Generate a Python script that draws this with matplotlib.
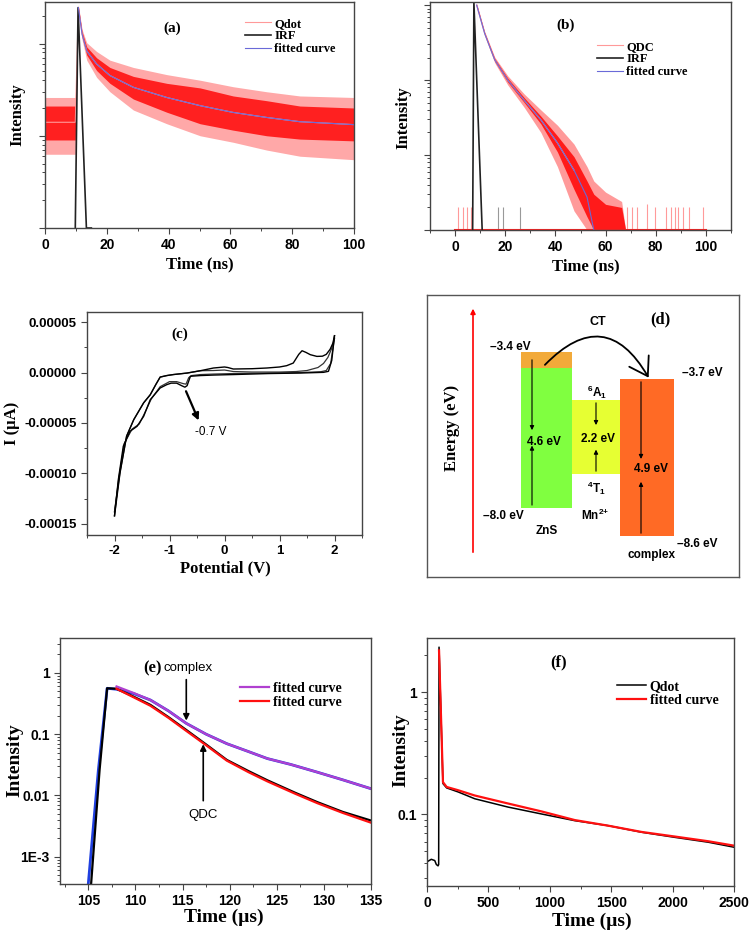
import matplotlib
matplotlib.use("Agg")
import matplotlib.pyplot as plt
from matplotlib.ticker import (LogLocator, NullFormatter, MultipleLocator,
                               FuncFormatter, FixedLocator, FixedFormatter)
from matplotlib.patches import Rectangle, FancyArrowPatch, ArrowStyle

SANS = 'Liberation Sans'
SERIF = 'Liberation Serif'
plt.rcParams['font.family'] = [SANS, 'DejaVu Sans']
plt.rcParams['font.weight'] = 'bold'
plt.rcParams['mathtext.fontset'] = 'custom'
plt.rcParams['mathtext.rm'] = 'Liberation Sans:bold'
plt.rcParams['mathtext.it'] = 'Liberation Sans:bold'
plt.rcParams['mathtext.bf'] = 'Liberation Sans:bold'

# ---------------- data (a) ----------------
a_time = [0, 5, 9.8, 10.8, 12, 13.5, 16.7, 21, 28.6, 39.4, 50.2, 60.9, 71.7, 82.5, 100]
a_qdot = [14, 14, 14, 245, 126, 83, 60, 45, 33.5, 26, 21.2, 17.9, 15.8, 14.2, 13.2]
a_qdot_hi = [21, 21, 21, 255, 134, 92, 70, 55, 44, 37, 33, 27, 24, 21, 20]
a_qdot_lo = [9, 9, 9, 235, 118, 75, 51, 37, 25, 18, 13.5, 11.5, 10, 9.2, 8.8]
a_spike_hi = [26, 26, 26, 262, 142, 102, 82, 66, 55, 46, 40, 34, 30, 27, 26]
a_spike_lo = [6.3, 6.3, 6.3, 228, 110, 66, 43, 30, 19, 13.5, 10, 8.5, 7, 6, 5.5]
a_fit_time = [10.8, 12, 13.5, 16.7, 21, 28.6, 39.4, 50.2, 60.9, 71.7, 82.5, 100]
a_fit = [245, 126, 83, 60, 45, 33.5, 26, 21.2, 17.9, 15.8, 14.2, 13.2]
a_irf_time = [9.8, 10.7, 13.4, 15.0]
a_irf = [1, 245, 1, 1]
a_legend = ['Qdot', 'IRF', 'fitted curve']

# ---------------- data (b) ----------------
b_time = [7.9, 8.6, 11.8, 15.8, 21, 27.6, 34.2, 40.8, 47.4, 52.6, 55.3, 60, 66.4, 68]
b_qdc_hi = [1, 1030, 430, 194, 106, 58, 33, 18, 9.5, 4.5, 3, 2.2, 2, 1]
b_qdc_lo = [1, 970, 405, 178, 94, 50, 26, 11, 3.5, 1.5, 1, 1, 1, 1]
b_spike_hi = [1, 1060, 445, 203, 114, 65, 40, 25, 14, 7, 4.5, 3.2, 2.4, 1]
b_spike_lo = [1, 940, 390, 170, 86, 43, 20, 7, 1.8, 1, 1, 1, 1, 1]
b_fit_time = [8.6, 11.8, 15.8, 21, 27.6, 34.2, 40.8, 47.4, 52.6, 55.3, 56.5]
b_fit = [1000, 417, 186, 100, 53.7, 29.5, 14.5, 6.3, 2.75, 1.0, 0.8]
b_irf_time = [7.0, 7.5, 10.8]
b_irf = [1, 1100, 1]
b_count_time = [1.3, 3.3, 4.6, 6.2, 68.4, 70.4, 72.4, 76.6, 79.6, 84.2, 86.2,
                87.5, 88.8, 90.8, 93.4, 98.7]
b_count = [2, 2, 2, 2, 2, 2, 2, 2.2, 2, 2, 2, 2, 2, 2, 2, 2]
b_irf_count_time = [17.1, 19.1, 25.7]
b_irf_count = [2, 2, 2]
b_legend = ['QDC', 'IRF', 'fitted curve']

# ---------------- data (c) ----------------
c_v_fwd1 = [-2.0, -1.9, -1.78, -1.65, -1.47, -1.35, -1.25, -1.17, -1.05, -0.93, -0.68,
            -0.44, -0.2, 0.0, 0.06, 0.16, 0.5, 0.77, 1.0, 1.13, 1.25, 1.35, 1.41, 1.48,
            1.56, 1.68, 1.78, 1.85, 1.92, 1.97, 2.0]
c_i_fwd1 = [-14.2e-5, -9.95e-5, -6.3e-5, -4.67e-5, -3.0e-5, -2.2e-5, -1.2e-5, -0.45e-5,
            -0.3e-5, -0.2e-5, -0.05e-5, 0.18e-5, 0.45e-5, 0.55e-5, 0.5e-5, 0.35e-5,
            0.38e-5, 0.45e-5, 0.55e-5, 0.68e-5, 0.94e-5, 1.8e-5, 2.16e-5, 2.0e-5,
            1.77e-5, 1.6e-5, 1.62e-5, 1.8e-5, 2.3e-5, 2.9e-5, 3.65e-5]
c_v_rev1 = [2.0, 1.95, 1.89, 1.8, 1.38, 0.8, 0.16, -0.2, -0.44, -0.62, -0.68, -0.72,
            -0.78, -0.87, -0.97, -1.05, -1.17, -1.35, -1.47, -1.59, -1.72, -1.84, -1.93, -2.0]
c_i_rev1 = [3.65e-5, 1.2e-5, 0.12e-5, 0.02e-5, -0.05e-5, -0.1e-5, -0.2e-5, -0.25e-5,
            -0.3e-5, -0.37e-5, -1.3e-5, -1.45e-5, -1.3e-5, -1.05e-5, -1.05e-5, -1.2e-5,
            -1.53e-5, -2.69e-5, -4.34e-5, -5.33e-5, -5.83e-5, -7.3e-5, -10.6e-5, -14.2e-5]
c_v_fwd2 = [-2.0, -1.9, -1.78, -1.65, -1.47, -1.35, -1.25, -1.17, -1.05, -0.93, -0.68,
            -0.44, -0.2, 0.0, 0.16, 0.5, 1.0, 1.3, 1.5, 1.7, 1.8, 1.88, 1.95, 2.0]
c_i_fwd2 = [-13.8e-5, -9.9e-5, -6.3e-5, -4.67e-5, -3.0e-5, -2.2e-5, -1.2e-5, -0.45e-5,
            -0.3e-5, -0.2e-5, -0.05e-5, 0.18e-5, 0.2e-5, 0.25e-5, 0.1e-5, 0.05e-5,
            0.05e-5, 0.1e-5, 0.2e-5, 0.5e-5, 0.9e-5, 1.5e-5, 2.4e-5, 3.4e-5]
c_v_rev2 = [2.0, 1.93, 1.85, 1.75, 1.38, 0.8, 0.16, -0.2, -0.44, -0.6, -0.65, -0.7,
            -0.75, -0.87, -1.0, -1.05, -1.17, -1.33, -1.45, -1.55, -1.68, -1.82, -1.92, -2.0]
c_i_rev2 = [3.4e-5, 0.9e-5, 0.2e-5, 0.08e-5, 0.0, -0.05e-5, -0.1e-5, -0.15e-5, -0.2e-5,
            -0.3e-5, -0.5e-5, -1.15e-5, -1.1e-5, -0.9e-5, -0.9e-5, -1.05e-5, -1.4e-5,
            -2.6e-5, -4.0e-5, -5.1e-5, -5.6e-5, -7.0e-5, -10.4e-5, -13.8e-5]

# ---------------- data (d) ----------------
d_band_names = ['ZnS', 'Mn', 'complex']
d_band_top = [-3.87, -4.82, -4.2]
d_band_bottom = [-8.0, -7.0, -8.83]
d_cap_top = -3.4
d_gap_labels = ['4.6 eV', '2.2 eV', '4.9 eV']

# ---------------- data (e) ----------------
e_time_complex = [105.0, 106.07, 107.0, 108.0, 109.8, 111.6, 113.5, 115.4, 117.5, 119.7,
                  122.0, 124.0, 126.5, 129.3, 132.0, 135.0]
e_complex = [3.6e-4, 0.026, 0.56, 0.54, 0.46, 0.36, 0.24, 0.15, 0.10, 0.070, 0.052,
             0.040, 0.032, 0.024, 0.018, 0.0129]
e_fit_time_complex = [108.0, 109.8, 111.6, 113.5, 115.4, 117.5, 119.7, 122.0, 124.0,
                      126.5, 129.3, 132.0, 135.0]
e_fit_complex = [0.60, 0.47, 0.36, 0.24, 0.15, 0.10, 0.070, 0.052, 0.040, 0.032, 0.024,
                 0.018, 0.0129]
e_time_qdc = [105.3, 106.2, 107.0, 108.0, 109.8, 111.6, 113.5, 115.4, 117.5, 119.7, 122.0,
              124.0, 127.0, 129.3, 132.0, 135.0]
e_qdc = [3.6e-4, 0.026, 0.56, 0.55, 0.41, 0.30, 0.19, 0.117, 0.068, 0.038, 0.025, 0.0177,
         0.011, 0.0078, 0.0054, 0.0039]
e_fit_time_qdc = [108.0, 109.8, 111.6, 113.5, 115.4, 117.5, 119.7, 122.0, 124.0, 127.0,
                  129.3, 132.0, 135.0]
e_fit_qdc = [0.55, 0.40, 0.29, 0.185, 0.113, 0.066, 0.037, 0.024, 0.0170, 0.0106, 0.0075,
             0.0052, 0.0036]
e_yticks = [1e-3, 1e-2, 1e-1, 1]
e_ytick_labels = ['1E-3', '0.01', '0.1', '1']

# ---------------- data (f) ----------------
f_time = [0, 35, 63, 76, 90, 95, 98, 130, 160, 253, 389, 660, 932, 1204, 1476, 1747,
          2019, 2291, 2500]
f_qdot = [0.041, 0.043, 0.042, 0.039, 0.038, 0.039, 2.34, 0.179, 0.165, 0.153, 0.1345,
          0.115, 0.101, 0.089, 0.081, 0.0716, 0.065, 0.0593, 0.054]
f_fit_time = [98, 130, 160, 253, 389, 660, 932, 1204, 1476, 1747, 2019, 2291, 2500]
f_fit = [2.2, 0.184, 0.168, 0.158, 0.143, 0.123, 0.106, 0.090, 0.081, 0.072, 0.066,
         0.0604, 0.0556]

# ---------------- figure ----------------
W, H = 751, 933
fig = plt.figure(figsize=(W / 100, H / 100), dpi=100)


def add_axes(x0, y0, x1, y1):
    return fig.add_axes([x0 / W, 1 - y1 / H, (x1 - x0) / W, (y1 - y0) / H])


def ftext(x, y, s, **kw):
    fig.text(x / W, 1 - y / H, s, ha='center', va='center', **kw)


def style(ax, labelsize=10):
    for s in ax.spines.values():
        s.set_color('#444444')
        s.set_linewidth(1.0)
    ax.tick_params(which='major', direction='out', length=4, width=0.8,
                   labelsize=labelsize, color='#444444')
    ax.tick_params(which='minor', direction='out', length=2.5, width=0.7, color='#444444')
    ax.tick_params(top=False, right=False, which='both')


def leg(ax, x, y, fs=9):
    ax.legend(loc='upper left', bbox_to_anchor=(x, y), frameon=False,
              prop={'family': SERIF, 'weight': 'bold', 'size': fs},
              handlelength=2.1, handletextpad=0.25, labelspacing=0.05, borderpad=0,
              borderaxespad=0)


# ---- (a)
axa = add_axes(45, 2, 354, 228)
axa.fill_between(a_time, a_spike_lo, a_spike_hi, color='#ffa8a8', lw=0)
axa.fill_between(a_time, a_qdot_lo, a_qdot_hi, color='#ff2020', lw=0)
axa.plot(a_time, a_qdot, color='#ff9999', lw=0.8, label=a_legend[0])
axa.plot(a_irf_time, a_irf, color='#222222', lw=1.2, label=a_legend[1])
axa.plot(a_fit_time, a_fit, color='#6a6ad8', lw=0.8, label=a_legend[2])
axa.set_yscale('log')
axa.set_xlim(0, 100)
axa.set_ylim(1, 10 ** 2.45)
axa.xaxis.set_major_locator(MultipleLocator(20))
axa.xaxis.set_minor_locator(MultipleLocator(10))
axa.yaxis.set_major_locator(LogLocator(base=10))
axa.yaxis.set_minor_locator(LogLocator(base=10, subs=range(2, 10)))
axa.yaxis.set_major_formatter(NullFormatter())
axa.yaxis.set_minor_formatter(NullFormatter())
style(axa)
leg(axa, 0.647, 0.93)
axa.text(0.411, 0.885, '(a)', transform=axa.transAxes, ha='center', va='center',
         family=SERIF, weight='bold', fontsize=11)
ftext(200, 264, 'Time (ns)', family=SERIF, weight='bold', fontsize=12)
ftext(17, 115, 'Intensity', family=SERIF, weight='bold', fontsize=12, rotation=90)

# ---- (b)
axb = add_axes(430, 2, 731, 230)
axb.vlines(b_count_time, 1, b_count, color='#ff9a9a', lw=0.8)
axb.vlines(b_irf_count_time, 1, b_irf_count, color='#999999', lw=0.8)
axb.fill_between(b_time, b_spike_lo, b_spike_hi, color='#ff9a9a', lw=0)
axb.fill_between(b_time, b_qdc_lo, b_qdc_hi, color='#ff1a1a', lw=0)
axb.plot([0, 100], [1, 1], color='#ff2020', lw=1.5, clip_on=False)
axb.plot(b_fit_time[:8], b_fit[:8], color='#ff9999', lw=0.8, label=b_legend[0])
axb.plot(b_irf_time, b_irf, color='#222222', lw=1.2, label=b_legend[1])
axb.plot(b_fit_time, b_fit, color='#6a6ad8', lw=0.8, label=b_legend[2])
axb.set_yscale('log')
axb.set_xlim(-10, 110)
axb.set_ylim(1, 1100)
axb.xaxis.set_major_locator(MultipleLocator(20))
axb.xaxis.set_minor_locator(MultipleLocator(10))
axb.yaxis.set_major_locator(LogLocator(base=10))
axb.yaxis.set_minor_locator(LogLocator(base=10, subs=range(2, 10)))
axb.yaxis.set_major_formatter(NullFormatter())
axb.yaxis.set_minor_formatter(NullFormatter())
style(axb)
leg(axb, 0.555, 0.83)
axb.text(0.449, 0.9, '(b)', transform=axb.transAxes, ha='center', va='center',
         family=SERIF, weight='bold', fontsize=11)
ftext(586, 266, 'Time (ns)', family=SERIF, weight='bold', fontsize=12)
ftext(403, 118, 'Intensity', family=SERIF, weight='bold', fontsize=12, rotation=90)

# ---- (c)
axc = add_axes(87, 312, 362, 535)
axc.plot(c_v_fwd2, c_i_fwd2, color='#333333', lw=0.9)
axc.plot(c_v_rev2, c_i_rev2, color='#333333', lw=0.9)
axc.plot(c_v_fwd1, c_i_fwd1, color='black', lw=1.0)
axc.plot(c_v_rev1, c_i_rev1, color='black', lw=1.0)
axc.set_xlim(-2.5, 2.5)
axc.set_ylim(-0.000161, 0.00006)
axc.xaxis.set_major_locator(MultipleLocator(1))
axc.xaxis.set_minor_locator(MultipleLocator(0.5))
axc.yaxis.set_major_locator(MultipleLocator(0.00005))
axc.yaxis.set_minor_locator(MultipleLocator(0.000025))
axc.yaxis.set_major_formatter(FuncFormatter(lambda v, p: f"{v:.5f}".replace('-0.00000', '0.00000')))
axc.xaxis.set_major_formatter(FuncFormatter(lambda v, p: f"{v:.0f}"))
style(axc, labelsize=9.5)
axc.annotate('', xy=(-0.45, -5.0e-5), xytext=(-0.72, -1.6e-5),
             arrowprops=dict(arrowstyle='-|>', color='black', lw=1.6, mutation_scale=10))
axc.text(-0.53, -5.9e-5, '-0.7 V', ha='left', va='center', fontsize=8.5,
         weight='normal', family=SANS)
axc.text(-0.81, 3.75e-5, '(c)', ha='center', va='center', family=SERIF,
         weight='bold', fontsize=11)
ftext(225, 568, 'Potential (V)', family=SERIF, weight='bold', fontsize=12)
ftext(12, 423, 'I (µA)', family=SERIF, weight='bold', fontsize=12, rotation=90)

# ---- (d)
axd = add_axes(427, 295, 739, 577)
axd.set_xlim(0, 312)
axd.set_ylim(-10.04, -1.72)
axd.set_xticks([])
axd.set_yticks([])
for s in axd.spines.values():
    s.set_color('#555555')
    s.set_linewidth(1.0)
band_x0 = [94, 145, 193]
band_x1 = [145, 193, 247]
band_col = ['#80ff40', '#e6ff33', '#ff6a25']
for x0, x1, top, bot, col in zip(band_x0, band_x1, d_band_top, d_band_bottom, band_col):
    axd.add_patch(Rectangle((x0, bot), x1 - x0, top - bot, color=col, lw=0))
axd.add_patch(Rectangle((band_x0[0], d_band_top[0]), band_x1[0] - band_x0[0],
                        d_cap_top - d_band_top[0], color='#f2aa3a', lw=0))
arr = dict(arrowstyle='-|>', color='black', lw=0.8, mutation_scale=6)
axd.annotate('', xy=(105, -5.79), xytext=(105, -3.55), arrowprops=arr)
axd.annotate('', xy=(105, -6.08), xytext=(105, -8.0), arrowprops=arr)
axd.annotate('', xy=(169, -5.64), xytext=(169, -4.82), arrowprops=arr)
axd.annotate('', xy=(169, -6.2), xytext=(169, -7.0), arrowprops=arr)
axd.annotate('', xy=(214, -6.64), xytext=(214, -4.2), arrowprops=arr)
axd.annotate('', xy=(214, -7.15), xytext=(214, -8.83), arrowprops=arr)
axd.annotate('', xy=(46, -2.04), xytext=(46, -9.39),
             arrowprops=dict(arrowstyle='-|>', color='red', lw=1.2, mutation_scale=7))
ct = FancyArrowPatch((116, -3.84), (223, -4.23), connectionstyle='arc3,rad=-0.68',
                     arrowstyle=ArrowStyle('->', head_length=0.7, head_width=0.45),
                     mutation_scale=18, lw=1.3, color='black')
axd.add_patch(ct)
dfs = 8.5
axd.text(171, -2.52, 'CT', ha='center', va='center', fontsize=9)
axd.text(233, -2.43, '(d)', ha='center', va='center', family=SERIF, fontsize=12)
axd.text(83, -3.25, '–3.4 eV', ha='center', va='center', fontsize=dfs)
axd.text(76, -8.24, '–8.0 eV', ha='center', va='center', fontsize=dfs)
axd.text(120, -8.68, 'ZnS', ha='center', va='center', fontsize=dfs)
axd.text(168, -8.21, 'Mn$^{2{+}}$', ha='center', va='center', fontsize=dfs)
axd.text(170, -4.58, '$^{6}$A$_{1}$', ha='center', va='center', fontsize=dfs)
axd.text(169, -7.42, '$^{4}$T$_{1}$', ha='center', va='center', fontsize=dfs)
axd.text(117, -6.05, d_gap_labels[0], ha='center', va='center', fontsize=dfs)
axd.text(171, -5.97, d_gap_labels[1], ha='center', va='center', fontsize=dfs)
axd.text(224, -6.85, d_gap_labels[2], ha='center', va='center', fontsize=dfs)
axd.text(275, -4.02, '–3.7 eV', ha='center', va='center', fontsize=dfs)
axd.text(270, -9.06, '–8.6 eV', ha='center', va='center', fontsize=dfs)
axd.text(224, -9.39, 'complex', ha='center', va='center', fontsize=dfs)
ftext(452, 428, 'Energy (eV)', family=SERIF, weight='bold', fontsize=12, rotation=90)

# ---- (e)
axe = add_axes(60, 638, 371, 884)
axe.plot(e_time_complex, e_complex, color='#2040e0', lw=2.0)
axe.plot(e_time_qdc, e_qdc, color='black', lw=1.6)
axe.plot(e_fit_time_complex, e_fit_complex, color='#b040d0', lw=1.6, label='fitted curve')
axe.plot(e_fit_time_qdc, e_fit_qdc, color='#ff1010', lw=1.6, label='fitted curve')
axe.set_yscale('log')
axe.set_xlim(102, 135)
axe.set_ylim(3.6e-4, 3.7)
axe.xaxis.set_major_locator(MultipleLocator(5))
axe.xaxis.set_minor_locator(MultipleLocator(2.5))
axe.yaxis.set_major_locator(FixedLocator(e_yticks))
axe.yaxis.set_major_formatter(FixedFormatter(e_ytick_labels))
axe.yaxis.set_minor_locator(LogLocator(base=10, subs=range(2, 10)))
axe.yaxis.set_minor_formatter(NullFormatter())
style(axe)
leg(axe, 0.579, 0.82, fs=10)
axe.annotate('', xy=(115.4, 0.15), xytext=(115.4, 0.86),
             arrowprops=dict(arrowstyle='-|>', color='black', lw=1.2, mutation_scale=9))
axe.annotate('', xy=(117.2, 0.076), xytext=(117.2, 0.0074),
             arrowprops=dict(arrowstyle='-|>', color='black', lw=1.2, mutation_scale=9))
axe.text(115.6, 1.18, 'complex', ha='center', va='center', fontsize=9.5, weight='normal')
axe.text(117.2, 0.0048, 'QDC', ha='center', va='center', fontsize=9.5, weight='normal')
axe.text(0.296, 0.878, '(e)', transform=axe.transAxes, ha='center', va='center',
         family=SERIF, weight='bold', fontsize=12)
ftext(224, 917, 'Time (µs)', family=SERIF, weight='bold', fontsize=14)
ftext(15, 760, 'Intensity', family=SERIF, weight='bold', fontsize=14, rotation=90)

# ---- (f)
axf = add_axes(427, 638, 734, 886)
axf.plot(f_time, f_qdot, color='black', lw=1.1, label='Qdot')
axf.plot(f_fit_time, f_fit, color='#ff1010', lw=1.6, label='fitted curve')
axf.set_yscale('log')
axf.set_xlim(0, 2500)
axf.set_ylim(0.026, 2.78)
axf.xaxis.set_major_locator(MultipleLocator(500))
axf.xaxis.set_minor_locator(MultipleLocator(250))
axf.yaxis.set_major_locator(FixedLocator([0.1, 1]))
axf.yaxis.set_major_formatter(FixedFormatter(['0.1', '1']))
axf.yaxis.set_minor_locator(LogLocator(base=10, subs=range(2, 10)))
axf.yaxis.set_minor_formatter(NullFormatter())
style(axf)
leg(axf, 0.619, 0.83, fs=10)
axf.text(0.427, 0.903, '(f)', transform=axf.transAxes, ha='center', va='center',
         family=SERIF, weight='bold', fontsize=12)
ftext(592, 921, 'Time (µs)', family=SERIF, weight='bold', fontsize=14)
ftext(401, 750, 'Intensity', family=SERIF, weight='bold', fontsize=14, rotation=90)

fig.savefig('out.png', dpi=100)
